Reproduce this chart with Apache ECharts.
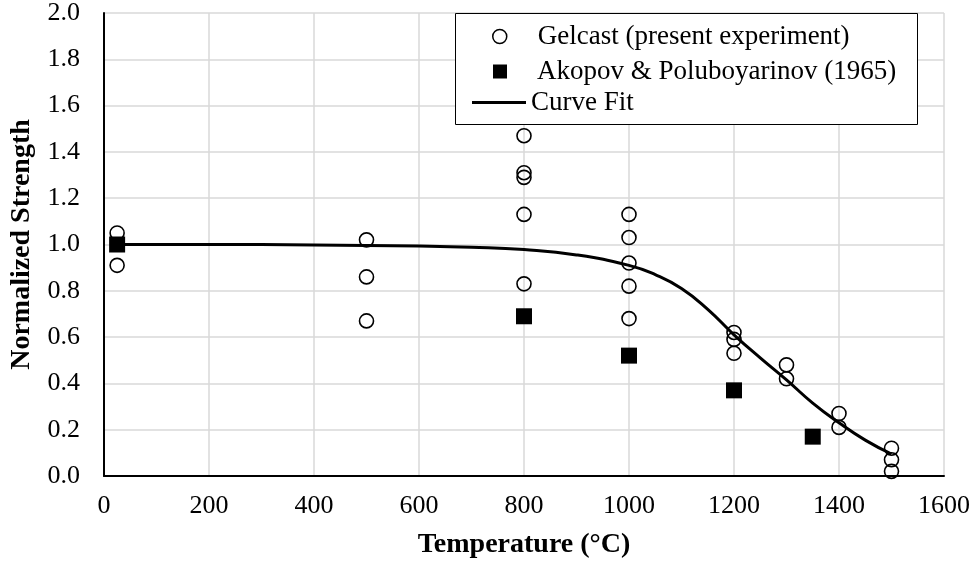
<!DOCTYPE html>
<html>
<head>
<meta charset="utf-8">
<script src="https://cdn.jsdelivr.net/npm/echarts@6/dist/echarts.min.js"></script>
<style>
  html, body { margin: 0; padding: 0; background: #fff; }
  #chart { width: 977px; height: 574px; }
</style>
</head>
<body>
<div id="chart"></div>
<script>
// Gelcast specimens (present experiment)
var gelcastTemp = [25, 25, 500, 500, 500, 800, 800, 800, 800, 800,
                   1000, 1000, 1000, 1000, 1000, 1200, 1200, 1200,
                   1300, 1300, 1400, 1400, 1500, 1500, 1500];
var gelcastStrength = [1.05, 0.91, 1.02, 0.86, 0.67, 1.47, 1.31, 1.29, 1.13, 0.83,
                       1.13, 1.03, 0.92, 0.82, 0.68, 0.62, 0.59, 0.53,
                       0.48, 0.42, 0.27, 0.21, 0.12, 0.07, 0.02];

// Akopov & Poluboyarinov (1965)
var akopovTemp = [25, 800, 1000, 1200, 1350];
var akopovStrength = [1.0, 0.69, 0.52, 0.37, 0.17];

// Fitted curve
var fitTemp = [25, 200, 400, 600, 700, 800, 900, 1000, 1050, 1100, 1150,
               1200, 1250, 1300, 1350, 1400, 1450, 1500];
var fitStrength = [1.0, 1.0, 0.998, 0.993, 0.988, 0.978, 0.955, 0.91, 0.87, 0.81, 0.72,
                   0.61, 0.51, 0.415, 0.315, 0.23, 0.155, 0.095];

var xTicks = { min: 0, max: 1600, interval: 200 };
var yTicks = { min: 0, max: 2, interval: 0.2 };

var names = ['Gelcast (present experiment)', 'Akopov & Poluboyarinov (1965)', 'Curve Fit'];

function pairs(xs, ys) {
  return xs.map(function (x, i) { return [x, ys[i]]; });
}

var serif = '"Liberation Serif", "Times New Roman", serif';
var legendText = { fontFamily: serif, fontSize: 27, color: '#000' };

var chart = echarts.init(document.getElementById('chart'), null, { renderer: 'canvas' });
chart.setOption({
  animation: false,
  backgroundColor: '#fff',
  grid: { left: 104, right: 33, top: 13, bottom: 98, containLabel: false },
  xAxis: {
    type: 'value',
    min: xTicks.min, max: xTicks.max, interval: xTicks.interval,
    name: 'Temperature (°C)',
    nameLocation: 'middle',
    nameGap: 55,
    nameTextStyle: { fontFamily: serif, fontSize: 28, fontWeight: 'bold', color: '#000' },
    axisLine: { show: true, onZero: false, lineStyle: { color: '#000', width: 2 } },
    axisTick: { show: false },
    axisLabel: {
      fontFamily: serif, fontSize: 26, color: '#000', margin: 17,
      formatter: function (v) { return String(v); }
    },
    splitLine: { show: true, lineStyle: { color: '#d9d9d9', width: 1.5 } }
  },
  yAxis: {
    type: 'value',
    min: yTicks.min, max: yTicks.max, interval: yTicks.interval,
    name: 'Normalized Strength',
    nameLocation: 'middle',
    nameGap: 68,
    nameTextStyle: { fontFamily: serif, fontSize: 28, fontWeight: 'bold', color: '#000' },
    axisLine: { show: true, onZero: false, lineStyle: { color: '#000', width: 2 } },
    axisTick: { show: false },
    axisLabel: {
      fontFamily: serif, fontSize: 26, color: '#000', margin: 24,
      formatter: function (v) { return v.toFixed(1); }
    },
    splitLine: { show: true, lineStyle: { color: '#d9d9d9', width: 1.5 } }
  },
  legend: [
    {
      data: [names[0]], left: 492, top: 23, padding: 0, orient: 'vertical', z: 20,
      itemWidth: 14, itemHeight: 14, icon: 'circle',
      itemStyle: { color: 'rgba(0,0,0,0)', borderColor: '#000', borderWidth: 1.5, opacity: 1 },
      textStyle: Object.assign({ padding: [0, 0, 0, 26] }, legendText),
      selectedMode: false
    },
    {
      data: [names[1]], left: 493, top: 58, padding: 0, orient: 'vertical', z: 20,
      itemWidth: 14, itemHeight: 14, icon: 'rect',
      itemStyle: { color: '#000', opacity: 1 },
      textStyle: Object.assign({ padding: [0, 0, 0, 25] }, legendText),
      selectedMode: false
    },
    {
      data: [names[2]], left: 472, top: 89, padding: 0, orient: 'vertical', z: 20,
      itemWidth: 54, itemHeight: 3, icon: 'rect',
      itemStyle: { color: '#000', opacity: 1 },
      textStyle: Object.assign({ padding: [0, 0, 0, 0] }, legendText),
      selectedMode: false
    }
  ],
  graphic: [
    {
      type: 'rect', left: 455, top: 13, z: 10, silent: true,
      shape: { width: 462, height: 111 },
      style: { fill: '#fff', stroke: '#000', lineWidth: 1 }
    }
  ],
  series: [
    {
      name: names[2],
      type: 'line',
      data: pairs(fitTemp, fitStrength),
      smooth: 0.5,
      showSymbol: false,
      lineStyle: { color: '#000', width: 3 },
      itemStyle: { color: '#000' },
      z: 2
    },
    {
      name: names[0],
      type: 'scatter',
      data: pairs(gelcastTemp, gelcastStrength),
      symbol: 'circle',
      symbolSize: 14,
      itemStyle: { color: 'rgba(0,0,0,0)', borderColor: '#000', borderWidth: 1.6, opacity: 1 },
      z: 3
    },
    {
      name: names[1],
      type: 'scatter',
      data: pairs(akopovTemp, akopovStrength),
      symbol: 'rect',
      symbolSize: 16,
      itemStyle: { color: '#000', opacity: 1 },
      z: 3
    }
  ]
});
</script>
</body>
</html>
